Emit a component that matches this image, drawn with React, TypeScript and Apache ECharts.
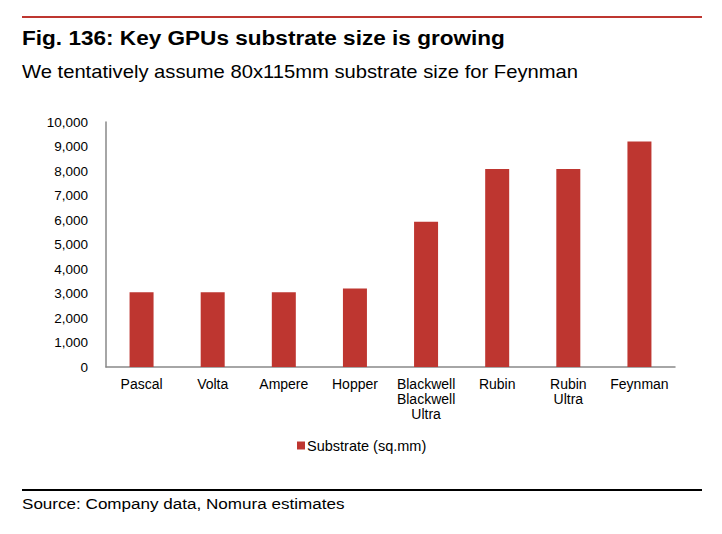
import React, { useEffect, useRef } from "react";
import * as echarts from "echarts";

const categories = ["Pascal", "Volta", "Ampere", "Hopper", "Blackwell\nBlackwell\nUltra", "Rubin", "Rubin\nUltra", "Feynman"];
const substrate = [3050, 3050, 3050, 3200, 5930, 8080, 8080, 9200];
const seriesName = "Substrate (sq.mm)";
const title = "Fig. 136: Key GPUs substrate size is growing";
const subtitle = "We tentatively assume 80x115mm substrate size for Feynman";
const source = "Source: Company data, Nomura estimates";

const FONT = "Liberation Sans, Arial, sans-serif";
const RED = "#BE3630";

export default function App() {
  const ref = useRef<HTMLDivElement>(null);
  useEffect(() => {
    document.body.style.margin = "0";
    const chart = echarts.init(ref.current!, null, { renderer: "svg" });
    chart.setOption({
      animation: false,
      backgroundColor: "#fff",
      textStyle: { fontFamily: FONT },
      grid: { left: 106, right: 47, top: 122, bottom: 167, containLabel: false },
      legend: {
        data: [seriesName],
        left: 297,
        top: 438,
        padding: 0,
        icon: "rect",
        itemWidth: 8,
        itemHeight: 8,
        itemGap: 4,
        textStyle: { fontSize: 14.5, color: "#000", fontFamily: FONT, padding: [0, 0, 0, -3] },
      },
      xAxis: {
        type: "category",
        data: categories,
        axisLine: { show: true, lineStyle: { color: "#898989", width: 1.5 } },
        axisTick: { show: false },
        axisLabel: { fontSize: 14, color: "#000", lineHeight: 15, margin: 9, interval: 0, fontFamily: FONT },
      },
      yAxis: {
        type: "value",
        min: 0,
        max: 10000,
        interval: 1000,
        axisLine: { show: true, lineStyle: { color: "#898989", width: 1.5 } },
        axisTick: { show: false },
        splitLine: { show: false },
        axisLabel: {
          fontSize: 13.5,
          color: "#000",
          margin: 18,
          fontFamily: FONT,
          formatter: (v: number) => v.toLocaleString("en-US"),
        },
      },
      series: [
        {
          name: seriesName,
          type: "bar",
          data: substrate,
          barWidth: 24,
          itemStyle: { color: RED },
        },
      ],
      graphic: [
        { type: "rect", shape: { x: 22, y: 16, width: 680, height: 2 }, style: { fill: RED } },
        {
          type: "text",
          x: 22,
          y: 37.5,
          scaleX: 1.075,
          style: { text: title, font: `bold 21px ${FONT}`, fill: "#000", align: "left", verticalAlign: "middle" },
        },
        {
          type: "text",
          x: 22,
          y: 71.5,
          scaleX: 1.155,
          style: { text: subtitle, font: `17.5px ${FONT}`, fill: "#000", align: "left", verticalAlign: "middle" },
        },
        { type: "rect", shape: { x: 22, y: 489, width: 680, height: 2 }, style: { fill: "#000" } },
        {
          type: "text",
          x: 22,
          y: 504,
          scaleX: 1.17,
          style: { text: source, font: `14.6px ${FONT}`, fill: "#000", align: "left", verticalAlign: "middle" },
        },
      ],
    });
    return () => chart.dispose();
  }, []);
  return <div ref={ref} style={{ width: 722, height: 534, position: "absolute", left: 0, top: 0 }} />;
}
